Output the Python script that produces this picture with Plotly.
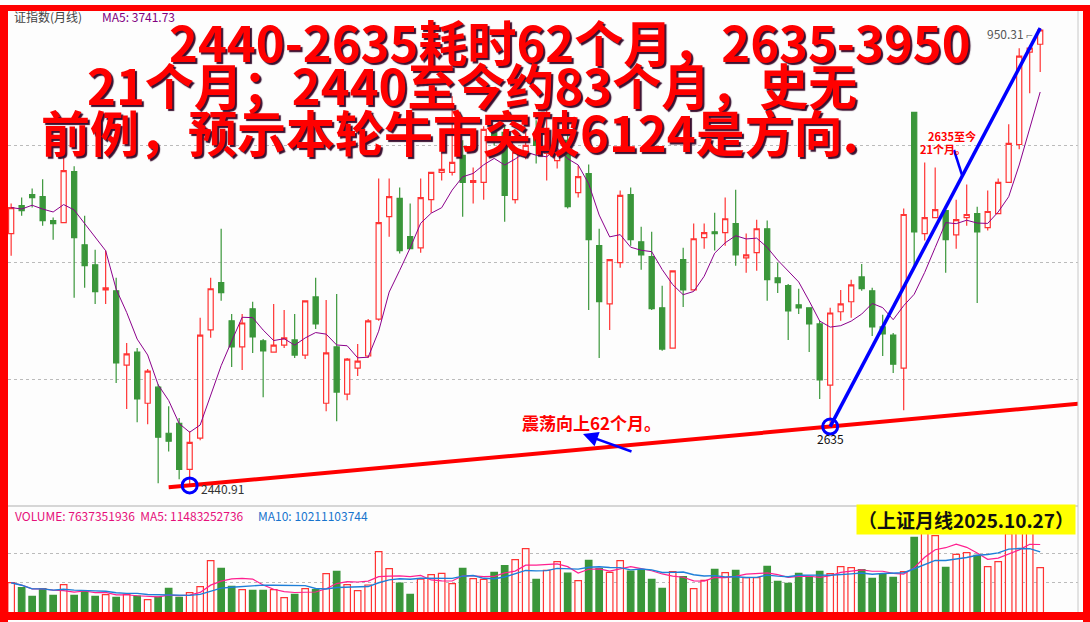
import numpy as np
import pandas as pd
import plotly.graph_objects as go

W, H = 1090, 622
L, R, T, B = 8, 12, 10, 9

# monthly OHLC of the index
opens = [3272, 3364, 3401, 3394, 3315, 3308, 3477, 3235, 3169, 3086, 3083, 2838, 2881, 2712, 2765, 2613, 2646, 2494, 2597, 2954,
         3110, 2984, 2898, 3024, 2918, 2881, 2904, 2921, 2871, 3063, 2712, 2898, 2742, 2828, 2868, 2990, 3328, 3388, 3262, 3225,
         3384, 3474, 3474, 3530, 3441, 3441, 3606, 3606, 3384, 3540, 3606, 3537, 3513, 3580, 3407, 3470, 3232, 3040, 3176, 3401,
         3245, 3196, 3027, 2894, 3186, 3086, 3259, 3278, 3275, 3305, 3192, 3209, 3288, 3126, 3100, 3037, 3027, 2974, 2772, 3014,
         3047, 3129, 3083, 2964, 2937, 2828, 3672, 3272, 3325, 3348, 3268, 3325, 3338, 3292, 3338, 3441, 3566, 3871, 3897]
closes = [3358, 3348, 3391, 3315, 3305, 3480, 3259, 3166, 3080, 3093, 2845, 2875, 2726, 2818, 2600, 2587, 2494, 2583, 2937, 3090,
          3077, 2898, 2977, 2931, 2885, 2904, 2928, 2871, 3050, 2974, 2878, 2749, 2858, 2851, 2984, 3308, 3394, 3216, 3222, 3391,
          3474, 3484, 3507, 3441, 3447, 3616, 3590, 3398, 3540, 3563, 3563, 3563, 3546, 3361, 3460, 3252, 3047, 3186, 3398, 3252,
          3202, 3024, 2891, 3149, 3086, 3255, 3275, 3272, 3321, 3202, 3202, 3288, 3120, 3110, 3017, 3027, 2974, 2789, 3010, 3040,
          3103, 3090, 2964, 2941, 2841, 3335, 3278, 3325, 3351, 3252, 3318, 3335, 3278, 3345, 3441, 3570, 3858, 3884, 3944]
highs = [3371, 3391, 3421, 3451, 3325, 3580, 3494, 3331, 3219, 3216, 3126, 2911, 2894, 2825, 2775, 2702, 2663, 2620, 2994, 3126,
         3288, 3007, 3007, 3047, 2924, 3040, 3020, 3007, 3050, 3126, 3053, 3073, 2861, 2908, 2990, 3454, 3454, 3424, 3371, 3454,
         3474, 3603, 3725, 3580, 3490, 3626, 3629, 3629, 3553, 3619, 3646, 3702, 3580, 3613, 3497, 3500, 3288, 3186, 3414, 3424,
         3295, 3278, 3100, 3149, 3225, 3305, 3305, 3341, 3391, 3417, 3272, 3318, 3315, 3176, 3106, 3090, 3027, 2984, 3027, 3086,
         3120, 3172, 3093, 3004, 2944, 3355, 3672, 3507, 3490, 3348, 3384, 3434, 3361, 3414, 3454, 3633, 3884, 3894, 3950.31]
lows = [3199, 3331, 3358, 3298, 3252, 3308, 3060, 3093, 3040, 3040, 2779, 2693, 2649, 2643, 2448, 2553, 2461, 2440.91, 2590, 2928,
        3050, 2832, 2822, 2878, 2732, 2881, 2894, 2861, 2858, 2957, 2686, 2653, 2722, 2802, 2861, 2984, 3262, 3206, 3222, 3209,
        3341, 3447, 3464, 3328, 3371, 3384, 3563, 3311, 3371, 3517, 3503, 3447, 3487, 3355, 3391, 3020, 2861, 2954, 3159, 3232,
        3153, 3020, 2885, 2894, 3030, 3083, 3222, 3216, 3232, 3166, 3143, 3149, 3050, 3076, 2921, 3007, 2881, 2726, 2635, 2984,
        2994, 3083, 2934, 2868, 2812, 2689, 3166, 3249, 3325, 3143, 3222, 3298, 3043, 3282, 3338, 3441, 3550, 3735, 3805]
# monthly volume, 1e8 shares
volumes = [51.1, 42.7, 28.1, 41.0, 29.8, 47.8, 29.8, 37.1, 28.1, 30.9, 26.4, 31.5, 28.7, 22.5, 27.0, 41.6, 26.4, 34.3, 44.4, 88.2,
           75.3, 45.0, 39.3, 38.2, 38.2, 39.3, 25.9, 31.5, 41.0, 39.3, 66.3, 70.3, 47.8, 37.7, 47.2, 103.4, 74.7, 50.6, 31.5, 57.3,
           64.6, 66.9, 49.5, 75.3, 57.9, 56.8, 68.6, 79.8, 89.9, 108.5, 56.8, 71.9, 86.5, 67.4, 54.5, 88.8, 74.7, 68.6, 88.2, 70.8,
           71.9, 56.8, 41.6, 69.7, 61.3, 41.0, 55.1, 73.6, 68.0, 71.9, 59.6, 59.6, 78.7, 53.4, 50.0, 66.9, 60.7, 70.3, 66.3, 78.1,
           76.4, 73.1, 58.4, 66.3, 60.1, 69.7, 127.6, 146.1, 130.4, 77.0, 98.9, 101.7, 97.2, 78.1, 86.5, 133.8, 137.1, 143.9, 76.4]

low_2440, low_2635 = 17, 78
title_lines = ["2440-2635耗时62个月，2635-3950",
               "21个月；2440至今约83个月，史无",
               "前例，预示本轮牛市突破6124是方向."]

RED = "#ff3333"
GREEN = "#3a963a"
PW, PH = W - L - R, H - T - B


def px(x):
    return (x - L) / PW


def py(y):
    return 1 - (y - T) / PH


n = len(closes)
idx = np.arange(n)
close_s = pd.Series(closes)
vol_s = pd.Series(volumes)
ma5 = close_s.rolling(5, min_periods=1).mean()
vma5 = vol_s.rolling(5, min_periods=1).mean()
vma10 = vol_s.rolling(10, min_periods=1).mean()
up = [c >= o for o, c in zip(opens, closes)]

fig = go.Figure()
fig.add_trace(go.Candlestick(
    x=idx, open=opens, high=highs, low=lows, close=closes,
    increasing=dict(line=dict(color=RED, width=1.2), fillcolor="#fdfdfd"),
    decreasing=dict(line=dict(color=GREEN, width=1.2), fillcolor=GREEN),
    whiskerwidth=0, hoverinfo="skip",
))
fig.add_trace(go.Scatter(x=idx, y=ma5, mode="lines", line=dict(color="#8b008b", width=1)))

fig.add_trace(go.Bar(
    x=idx, y=volumes, xaxis="x2", yaxis="y2", width=0.62,
    marker=dict(color=["#fdfdfd" if u else GREEN for u in up],
                line=dict(color=[RED if u else GREEN for u in up], width=1.2)),
))
fig.add_trace(go.Scatter(x=idx, y=vma5, xaxis="x2", yaxis="y2", mode="lines",
                         line=dict(color="#ff1f8f", width=1.2)))
fig.add_trace(go.Scatter(x=idx, y=vma10, xaxis="x2", yaxis="y2", mode="lines",
                         line=dict(color="#1e7fd8", width=1.4)))

# support line through the two lows, extended
slope = (lows[low_2635] - lows[low_2440]) / (low_2635 - low_2440)
xs = np.array([15.0, 102.5])
fig.add_trace(go.Scatter(x=xs, y=lows[low_2440] + slope * (xs - low_2440), mode="lines",
                         line=dict(color="#ff0000", width=4)))
# rise line 2635 -> 3950
fig.add_trace(go.Scatter(x=[low_2635, n - 1], y=[lows[low_2635], highs[-1]], mode="lines",
                         line=dict(color="#0000ff", width=3.5)))
fig.add_trace(go.Scatter(x=[low_2440, low_2635], y=[lows[low_2440], lows[low_2635]], mode="markers",
                         marker=dict(symbol="circle-open", size=15, color="#0000ff", line=dict(width=3))))

grid = dict(showgrid=True, gridcolor="#bbbbbb", griddash="dot", gridwidth=1)
fig.update_layout(
    width=W, height=H, margin=dict(l=L, r=R, t=T, b=B),
    paper_bgcolor="#fdfdfd", plot_bgcolor="#fdfdfd", showlegend=False,
    font=dict(family="Noto Sans CJK SC"),
    xaxis=dict(domain=[0, 1], range=[-0.3, 101.6], showticklabels=False, showgrid=False,
               zeroline=False, rangeslider=dict(visible=False), anchor="y"),
    xaxis2=dict(domain=[0, 1], range=[-0.3, 101.6], showticklabels=False, showgrid=False,
                zeroline=False, anchor="y2", matches="x"),
    yaxis=dict(domain=[0.18, 1], range=[2378, 4010], tickvals=[2792, 3176, 3563],
               showticklabels=False, zeroline=False, **grid),
    yaxis2=dict(domain=[0, 0.175], range=[0, 178], tickvals=[51, 100],
                showticklabels=False, zeroline=False, **grid),
)

shapes = [
    # panel separator and right axis edge
    dict(type="line", xref="paper", yref="paper", x0=0, x1=1, y0=py(506), y1=py(506),
         line=dict(color="#c8c8c8", width=1.5)),
    dict(type="line", xref="paper", yref="paper", x0=px(1078), x1=px(1078), y0=py(612), y1=py(10),
         line=dict(color="#c8c8c8", width=1)),
    # blue pointer from label to rise line
    dict(type="line", xref="paper", yref="paper", x0=px(954), y0=py(150), x1=px(962), y1=py(175),
         line=dict(color="#0000ff", width=2.5)),
]
# red frame
for x0, y0, x1, y1 in [(0, 5, 8, 622), (0, 5, 1090, 11), (1083, 5, 1090, 622), (0, 612, 1090, 620)]:
    shapes.append(dict(type="rect", xref="paper", yref="paper", x0=px(x0), x1=px(x1), y0=py(y1), y1=py(y0),
                       fillcolor="#ff0000", line=dict(width=0)))
fig.update_layout(shapes=shapes)

ann = []
title_pos = [(570, 40), (472, 83), (450, 130)]
for text, (x, y) in zip(title_lines, title_pos):
    ann.append(dict(text=f"<b>{text}</b>", x=px(x), y=py(y), xref="paper", yref="paper", showarrow=False,
                    xanchor="center", yanchor="middle",
                    font=dict(size=49, color="#ff0000", family="Noto Sans CJK SC",
                              shadow="2px 2px 1px #3a1030")))
small = [
    ("证指数(月线)", 12, 17, "#444444", 12),
    ("MA5: 3741.73", 100, 17, "#800080", 12),
    ("950.31 ⌐", 985, 33, "#555555", 12),
    ("<b>2635至今</b>", 926, 136, "#ff0000", 11),
    ("<b>21个月。</b>", 918, 149, "#ff0000", 11),
    ("<b>震荡向上62个月。</b>", 520, 422, "#ff0000", 17),
    ("VOLUME: 7637351936  MA5: 11483252736", 13, 515, "#e5107a", 12),
    ("MA10: 10211103744", 256, 515, "#1874cd", 12),
]
for text, x, y, color, size in small:
    ann.append(dict(text=text, x=px(x), y=py(y), xref="paper", yref="paper", showarrow=False,
                    xanchor="left", yanchor="middle", font=dict(size=size, color=color)))
ann.append(dict(text="2440.91", x=low_2440 + 0.9, y=lows[low_2440] - 10, xanchor="left", yanchor="middle",
                showarrow=False, font=dict(size=12, color="#333333")))
ann.append(dict(text="2635", x=low_2635, y=lows[low_2635] - 40, yanchor="middle", showarrow=False,
                font=dict(size=12, color="#111111")))
ann.append(dict(text="<b>（上证月线2025.10.27）</b>", x=px(1076), y=py(519), xref="paper", yref="paper",
                xanchor="right", yanchor="middle", showarrow=False, bgcolor="#ffff00",
                font=dict(size=19, color="#111111")))
# blue arrow under the oscillation label
ann.append(dict(x=px(583), y=py(434), ax=633 - 583, ay=452 - 434, xref="paper", yref="paper",
                text="", showarrow=True, arrowhead=2, arrowsize=1.2, arrowwidth=2.5, arrowcolor="#0000ff"))
fig.update_layout(annotations=ann)

fig.write_html("out.html", config={"displayModeBar": False},
               post_script="document.body.style.margin='0';")
